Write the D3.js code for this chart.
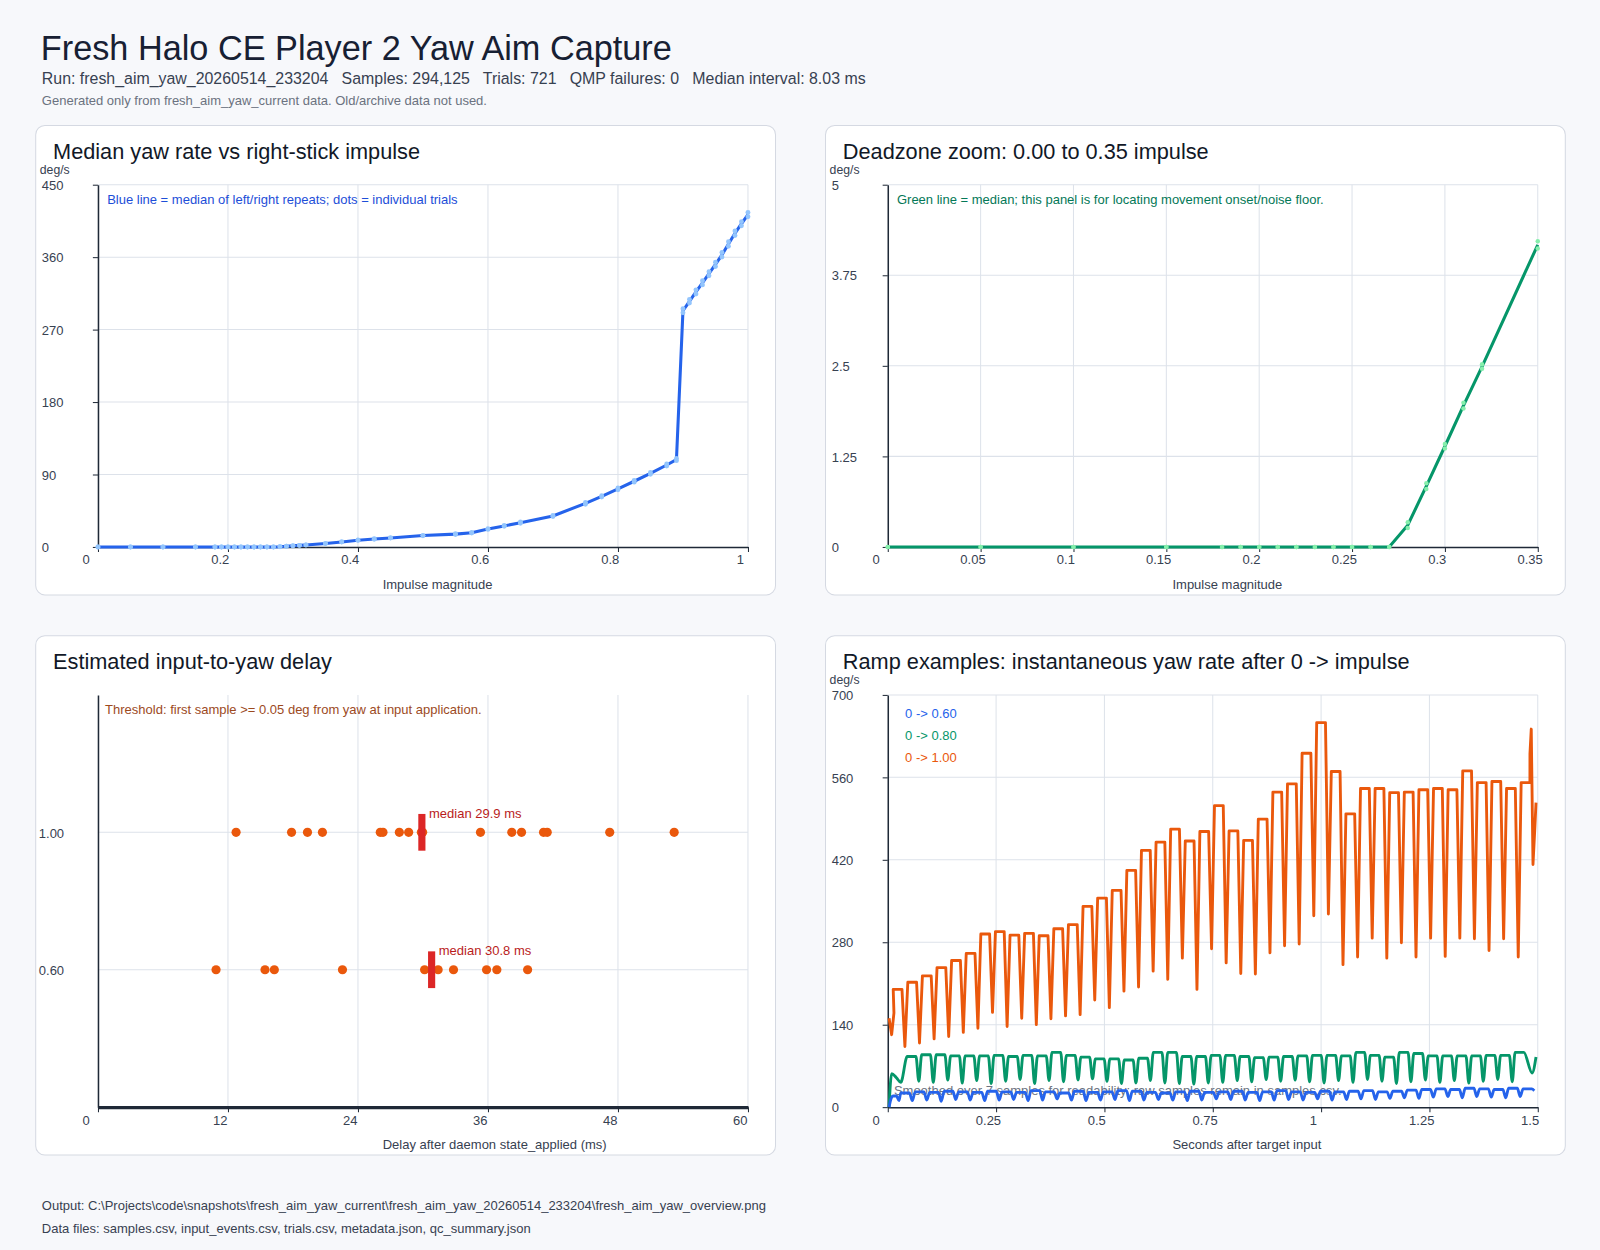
<!DOCTYPE html>
<html>
<head>
<meta charset="utf-8">
<script src="https://cdn.jsdelivr.net/npm/d3@7/dist/d3.min.js"></script>
<style>
  body { margin: 0; background: #f7f8fb; }
  svg { display: block; font-family: "Liberation Sans", Arial, sans-serif; }
</style>
</head>
<body>
<svg id="chart"></svg>
<script>
var impulse = [0,0.05,0.1,0.15,0.18,0.19,0.2,0.21,0.22,0.23,0.24,0.25,0.26,0.27,0.28,0.29,0.3,0.31,0.32,0.35,
  0.375,0.4,0.425,0.45,0.5,0.55,0.575,0.6,0.625,0.65,0.7,0.75,0.775,0.8,0.825,0.85,0.875,0.89,
  0.9,0.91,0.92,0.93,0.94,0.95,0.96,0.97,0.98,0.99,1.0];
var medianYaw = [0,0,0,0,0,0,0,0,0,0,0,0,0,0,0.3,0.84,1.39,1.95,2.49,4.17,
  6.2,8.4,9.8,11.2,14.1,15.9,17.6,22.3,26.1,30.2,38.5,54.2,62.8,72.1,81.6,91.4,101.8,108.6,
  293.5,305.2,316.8,328.1,339.4,351.0,362.9,376.3,389.6,401.5,412.8];
var trialLeft = [0,0,0,0,0,0,0,0,0,0,0,0,0,0,0.26,0.8,1.36,1.91,2.46,4.12,
  6.0,8.1,9.5,11.0,13.8,15.5,17.2,21.8,25.6,29.5,37.9,53.1,61.9,71.0,80.5,90.2,100.6,107.2,
  291.0,302.9,314.2,325.5,336.8,348.3,360.1,373.5,386.8,398.9,410.1];
var trialRight = [0,0,0,0,0,0,0,0,0,0,0,0,0,0,0.34,0.88,1.42,1.99,2.52,4.22,
  6.4,8.7,10.1,11.4,14.4,16.3,18.0,22.8,26.6,30.9,39.1,55.3,63.7,73.2,82.7,92.6,103.0,110.0,
  296.0,307.5,319.4,330.7,342.0,353.7,365.7,379.1,392.4,404.1,415.5];

var delayRows = [1.0, 0.6];
var delayRowLabels = ["1.00", "0.60"];
var delay100 = [12.75,17.87,19.34,20.72,26.06,26.31,27.82,28.68,29.85,29.97,35.31,38.2,39.1,41.13,41.47,47.24,53.19];
var delay060 = [10.9,15.42,16.28,22.57,30.15,31.4,32.82,35.87,36.82,39.66];
var delayMedian = [29.9, 30.8];

// ramp examples: one plateau value and one dip value per input cycle
var orangePeriod = 0.0337, orangeFirst = 0.0227;
var orangePeaks = [200,212,223,237,249,261,294,298,292,295, 291,303,310,341,355,368,402,436,450,472,
  452,468,512,469,453,489,535,549,601,653, 570,498,541,541,534,535,539,541,539,571, 551,553,541,551];
var orangeDips = [103,109,116,120,127,134,161,137,151,140, 150,155,157,182,169,197,204,231,217,253,
  200,269,245,227,226,262,274,277,325,328, 242,255,287,253,279,255,287,256,287,286, 266,286,255];
var orangeLead = [[0.003,151],[0.009,123],[0.0143,160]];
var orangeTail = [[1.482,600],[1.485,642],[1.489,412],[1.493,470],[1.496,517]];

var greenPeriod = 0.0334, greenFirst = 0.055;
var greenPeaks = [86,89,89,87,87,87,88,86,88,87, 93,88,85,82,82,80,83,93,93,86,
  86,88,88,86,84,85,86,87,88,88, 87,93,88,85,93,91,87,87,87,87, 88,88,93];
var greenDips = [44,42,46,41,45,40,44,47,40,45, 43,46,48,44,40,41,45,41,40,39,
  41,42,45,43,47,44,46,43,41,45, 42,47,44,40,43,46,42,45,41,44, 47,43];
var greenLead = [[0.003,0],[0.009,57],[0.02,50],[0.03,42]];
var greenTail = [[1.487,58],[1.496,85]];

var bluePeriod = 0.0334, blueFirst = 0.04;
var bluePeaks = [24,26,25,27,26,25,27,26,25,28, 26,24,27,25,26,28,27,25,24,26,
  27,25,26,27,25,26,28,26,25,27, 26,27,28,26,27,29,30,31,30,32, 31,30,32,31];
var blueDips = [11,12,10,13,12,11,12,13,11,12, 14,12,11,12,13,11,12,13,12,11,
  12,14,13,12,11,12,13,12,14,12, 13,14,13,15,16,15,17,18,16,18, 17,16,18];
var blueLead = [[0.003,0],[0.008,15],[0.012,19],[0.02,19],[0.026,11]];
var blueTail = [[1.492,28]];

// tick labels
var p1XTicks = [0,0.2,0.4,0.6,0.8,1], p1YTicks = [0,90,180,270,360,450];
var p2XTicks = [0,0.05,0.1,0.15,0.2,0.25,0.3,0.35], p2YTicks = [0,1.25,2.5,3.75,5];
var p3XTicks = [0,12,24,36,48,60];
var p4XTicks = [0,0.25,0.5,0.75,1,1.25,1.5], p4YTicks = [0,140,280,420,560,700];

var FS = 12.75;   // small text size
var W = 1568, H = 1225;
var svg = d3.select("#chart")
  .attr("width", 1600).attr("height", 1250)
  .attr("viewBox", "0 0 " + W + " " + H);

svg.append("rect").attr("width", W).attr("height", H).attr("fill", "#f7f8fb");

// header
svg.append("text").attr("x", 40).attr("y", 59).attr("font-size", 33.6).attr("fill", "#172033")
  .text("Fresh Halo CE Player 2 Yaw Aim Capture");
svg.append("text").attr("x", 41).attr("y", 82).attr("font-size", 15.6).attr("fill", "#374151")
  .style("white-space", "pre")
  .text("Run: fresh_aim_yaw_20260514_233204   Samples: 294,125   Trials: 721   QMP failures: 0   Median interval: 8.03 ms");
svg.append("text").attr("x", 41).attr("y", 103).attr("font-size", FS).attr("fill", "#6b7280")
  .text("Generated only from fresh_aim_yaw_current data. Old/archive data not used.");

// footer
svg.append("text").attr("x", 41).attr("y", 1186).attr("font-size", FS).attr("fill", "#374151")
  .text("Output: C:\\Projects\\code\\snapshots\\fresh_aim_yaw_current\\fresh_aim_yaw_20260514_233204\\fresh_aim_yaw_overview.png");
svg.append("text").attr("x", 41).attr("y", 1208).attr("font-size", FS).attr("fill", "#374151")
  .text("Data files: samples.csv, input_events.csv, trials.csv, metadata.json, qc_summary.json");

function fmt(d){ return String(d); }

// panel frame, grid and axes; returns scales and the plot group
function panel(o){
  var g = svg.append("g");
  g.append("rect").attr("x", o.x).attr("y", o.y).attr("width", 725).attr("height", o.h)
    .attr("rx", 9).attr("fill", "#fff").attr("stroke", "#d5d9e2");
  g.append("text").attr("x", o.x + 17).attr("y", o.y + 33).attr("font-size", 21.3)
    .attr("fill", "#111827").text(o.title);

  var left = o.x + 61, right = o.x + 698, top = o.y + 58, bottom = o.y + o.h - 47;
  var x = d3.scaleLinear().domain(o.xDomain).range([left, right]);
  var y = d3.scaleLinear().domain(o.yDomain).range([bottom, top]);

  // grid
  g.append("g").selectAll("line").data(o.xTicks.filter(function(d){ return x(d) > left; }))
    .enter().append("line")
    .attr("x1", function(d){ return x(d); }).attr("x2", function(d){ return x(d); })
    .attr("y1", top).attr("y2", bottom).attr("stroke", "#dde2ea");
  g.append("g").selectAll("line").data(o.yTicks.filter(function(d){ return y(d) < bottom; }))
    .enter().append("line")
    .attr("y1", function(d){ return y(d); }).attr("y2", function(d){ return y(d); })
    .attr("x1", left).attr("x2", right).attr("stroke", "#dde2ea");

  if (o.unit){
    g.append("text").attr("x", o.x + 4).attr("y", o.y + 47.5).attr("font-size", 12)
      .attr("fill", "#374151").text(o.unit);
  }

  // axes
  var ya = g.append("g").attr("transform", "translate(" + left + ",0)")
    .call(d3.axisLeft(y).tickValues(o.yTicks).tickFormat(o.yFormat || fmt)
      .tickSize(o.yTickMarks ? 5 : 0).tickSizeOuter(0));
  ya.select(".domain").attr("stroke", "#1f2937").attr("stroke-width", 1.5);
  ya.selectAll(".tick line").attr("stroke", "#1f2937");
  ya.selectAll("text").attr("x", o.x + (o.labelX || 6) - left).attr("text-anchor", "start")
    .attr("dy", "0.36em").attr("font-size", FS).attr("fill", "#374151");

  var xa = g.append("g").attr("transform", "translate(0," + bottom + ")")
    .call(d3.axisBottom(x).tickValues(o.xTicks).tickFormat(fmt).tickSize(5).tickSizeOuter(0));
  xa.select(".domain").attr("stroke", "#1f2937").attr("stroke-width", o.xAxisWidth || 1.5);
  xa.selectAll(".tick line").attr("stroke", "#1f2937");
  xa.selectAll("text").attr("dx", function(d, i){ return i === 0 ? -12 : -8; })
    .attr("font-size", FS).attr("fill", "#374151");
  ya.attr("font-family", null);
  xa.attr("font-family", null);

  g.append("text").attr("x", o.x + 340).attr("y", bottom + 41).attr("font-size", FS)
    .attr("fill", "#374151").text(o.xLabel);

  return {g: g, x: x, y: y, left: left, top: top, right: right, bottom: bottom};
}

// builds a ramp trace: lead-in, plateau/dip per cycle, tail
function rampPoints(lead, first, period, peaks, dips, tail){
  var pts = lead.slice();
  peaks.forEach(function(p, i){
    var c = first + i * period;
    pts.push([c - period * 0.3, p], [c + period * 0.3, p]);
    if (i < dips.length) pts.push([c + period / 2, dips[i]]);
  });
  return pts.concat(tail);
}

// 1) median yaw rate
var p1 = panel({x: 35, y: 123, h: 460, title: "Median yaw rate vs right-stick impulse",
  xDomain: [0, 1], yDomain: [0, 450], xTicks: p1XTicks, yTicks: p1YTicks,
  yTickMarks: true, unit: "deg/s", xLabel: "Impulse magnitude"});
p1.g.append("text").attr("x", p1.left + 9).attr("y", p1.top + 19).attr("font-size", FS)
  .attr("fill", "#1d4ed8").text("Blue line = median of left/right repeats; dots = individual trials");
p1.g.append("path").datum(impulse)
  .attr("fill", "none").attr("stroke", "#2563eb").attr("stroke-width", 3)
  .attr("d", d3.line().x(function(d){ return p1.x(d); })
    .y(function(d, i){ return p1.y(medianYaw[i]); }));
[trialLeft, trialRight].forEach(function(trials){
  p1.g.append("g").selectAll("circle").data(impulse).enter().append("circle")
    .attr("cx", function(d){ return p1.x(d); })
    .attr("cy", function(d, i){ return p1.y(trials[i]); })
    .attr("r", 2.4).attr("fill", "#93c5fd");
});

// 2) deadzone zoom
var p2 = panel({x: 809, y: 123, h: 460, title: "Deadzone zoom: 0.00 to 0.35 impulse",
  xDomain: [0, 0.35], yDomain: [0, 5], xTicks: p2XTicks, yTicks: p2YTicks,
  yTickMarks: true, unit: "deg/s", xLabel: "Impulse magnitude"});
p2.g.append("text").attr("x", p2.left + 9).attr("y", p2.top + 19).attr("font-size", FS)
  .attr("fill", "#047857").text("Green line = median; this panel is for locating movement onset/noise floor.");
var zoomIdx = d3.range(impulse.length).filter(function(i){ return impulse[i] <= 0.35; });
p2.g.append("path").datum(zoomIdx)
  .attr("fill", "none").attr("stroke", "#059669").attr("stroke-width", 3)
  .attr("d", d3.line().x(function(i){ return p2.x(impulse[i]); })
    .y(function(i){ return p2.y(medianYaw[i]); }));
[trialLeft, trialRight].forEach(function(trials){
  p2.g.append("g").selectAll("circle").data(zoomIdx).enter().append("circle")
    .attr("cx", function(i){ return p2.x(impulse[i]); })
    .attr("cy", function(i){ return p2.y(trials[i]); })
    .attr("r", 2.2).attr("fill", "#86efac");
});

// 3) input-to-yaw delay
var p3 = panel({x: 35, y: 623, h: 509, title: "Estimated input-to-yaw delay",
  xDomain: [0, 60], yDomain: [0.2, 1.4], xTicks: p3XTicks, yTicks: delayRows,
  yFormat: function(d){ return delayRowLabels[delayRows.indexOf(d)]; },
  yTickMarks: false, labelX: 3, xAxisWidth: 3, xLabel: "Delay after daemon state_applied (ms)"});
p3.g.append("text").attr("x", p3.left + 7).attr("y", p3.top + 19).attr("font-size", FS)
  .attr("fill", "#9c4a1e").text("Threshold: first sample >= 0.05 deg from yaw at input application.");
[delay100, delay060].forEach(function(vals, r){
  var row = p3.y(delayRows[r]);
  p3.g.append("g").selectAll("circle").data(vals).enter().append("circle")
    .attr("cx", function(d){ return p3.x(d); }).attr("cy", row)
    .attr("r", 4.5).attr("fill", "#ea580c");
  p3.g.append("rect").attr("x", p3.x(delayMedian[r]) - 3.5).attr("y", row - 18)
    .attr("width", 7).attr("height", 36).attr("fill", "#dc2626");
  p3.g.append("text").attr("x", p3.x(delayMedian[r]) + 7).attr("y", row - 14)
    .attr("font-size", FS).attr("fill", "#b91c1c")
    .text("median " + delayMedian[r].toFixed(1) + " ms");
});

// 4) ramp examples
var p4 = panel({x: 809, y: 623, h: 509, title: "Ramp examples: instantaneous yaw rate after 0 -> impulse",
  xDomain: [0, 1.5], yDomain: [0, 700], xTicks: p4XTicks, yTicks: p4YTicks,
  yTickMarks: true, unit: "deg/s", xLabel: "Seconds after target input"});
p4.g.append("text").attr("x", p4.left + 6).attr("y", p4.bottom - 12).attr("font-size", FS)
  .attr("fill", "#6b7280")
  .text("Smoothed over 7 samples for readability; raw samples remain in samples.csv.");

var ramps = [
  {label: "0 -> 1.00", color: "#ea580c", curve: d3.curveLinear,
   pts: rampPoints(orangeLead, orangeFirst, orangePeriod, orangePeaks, orangeDips, orangeTail)},
  {label: "0 -> 0.80", color: "#059669", curve: d3.curveMonotoneX,
   pts: rampPoints(greenLead, greenFirst, greenPeriod, greenPeaks, greenDips, greenTail)},
  {label: "0 -> 0.60", color: "#2563eb", curve: d3.curveMonotoneX,
   pts: rampPoints(blueLead, blueFirst, bluePeriod, bluePeaks, blueDips, blueTail)}
];
ramps.forEach(function(s){
  var line = d3.line().curve(s.curve)
    .x(function(d){ return p4.x(d[0]); }).y(function(d){ return p4.y(d[1]); });
  p4.g.append("path").datum(s.pts)
    .attr("fill", "none").attr("stroke", s.color).attr("stroke-width", 2.8)
    .attr("stroke-linejoin", "round").attr("d", line);
});
ramps.slice().reverse().forEach(function(s, i){
  p4.g.append("text").attr("x", p4.left + 17).attr("y", p4.top + 23 + i * 21.5)
    .attr("font-size", FS).attr("fill", s.color).text(s.label);
});
</script>
</body>
</html>
